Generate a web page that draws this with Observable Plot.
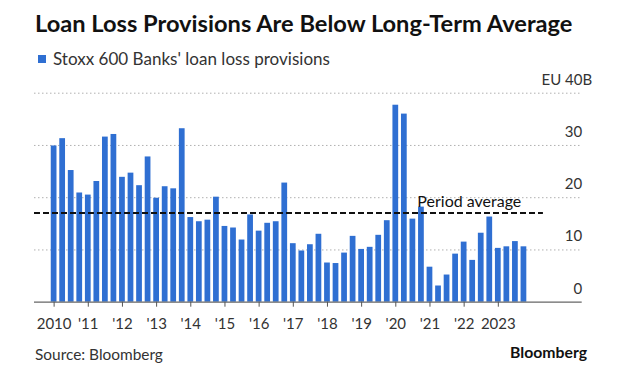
<!DOCTYPE html>
<html><head><meta charset="utf-8">
<script src="https://cdn.jsdelivr.net/npm/d3@7"></script>
<script src="https://cdn.jsdelivr.net/npm/@observablehq/plot@0.6"></script>
<style>
html,body{margin:0;padding:0;background:#fff;}
body{width:620px;height:372px;position:relative;overflow:hidden;font-family:Lato,"Noto Sans",sans-serif;}
.t{position:absolute;top:0;left:0;white-space:nowrap;line-height:1;font-size:20px;}
.bl{display:inline-block;width:0;height:0;vertical-align:baseline;}
#title{font-weight:700;color:#111;}
#legend{color:#333;}
#source{color:#333;}
#logo{font-weight:700;color:#111;}
#swatch{position:absolute;left:38px;top:55px;width:8px;height:8px;background:#2f6fd2;}
#chart{position:absolute;left:0;top:70px;}
</style>
</head><body>
<div class="t" id="title">Loan Loss Provisions Are Below Long-Term Average<span class="bl"></span></div>
<div id="swatch"></div>
<div class="t" id="legend">Stoxx 600 Banks' loan loss provisions<span class="bl"></span></div>
<div id="chart"></div>
<div class="t" id="source">Source: Bloomberg<span class="bl"></span></div>
<div class="t" id="logo">Bloomberg<span class="bl"></span></div>
<script>
// ---- data ----
const years = [2010,2011,2012,2013,2014,2015,2016,2017,2018,2019,2020,2021,2022,2023];
const quarters = [1,2,3,4];
const xTickLabels = ["2010","'11","'12","'13","'14","'15","'16","'17","'18","'19","'20","'21","'22","2023"];
// Stoxx 600 Banks' loan loss provisions, EU billions, quarterly 2010Q1..2023Q4
const provisions = [
  29.9,31.3,25.2,20.9,
  20.5,23.1,31.6,32.1,
  23.9,24.7,22.3,27.8,
  19.9,22.1,21.7,33.2,
  16.2,15.4,15.7,20.1,
  14.5,14.2,11.9,16.7,
  13.6,15.1,15.4,22.8,
  11.2,9.8,11.0,13.0,
  7.5,7.4,9.4,12.6,
  10.1,10.5,12.8,15.6,
  37.7,36.0,15.9,18.2,
  6.7,3.1,5.2,9.2,
  11.5,8.0,13.2,16.3,
  10.3,10.6,11.6,10.6
];
const yTicks = [0,10,20,30];
const yTop = 40;
const avgLabel = "Period average";

// ---- table ----
const table = [];
years.forEach((yr, yi) => quarters.forEach((q, qi) => {
  const t = yr + (q - 1) / 4;
  table.push({t, x1: t - 0.125, x2: t + 0.125, v: provisions[yi * 4 + qi]});
}));
const avg = d3.mean(provisions);

const blue = "#2f6fd2";
const xDomain = [years[0] - 0.574, years[years.length - 1] + 2.455];

const chart = Plot.plot({
  width: 620, height: 270,
  marginLeft: 34, marginRight: 38.3, marginTop: 22.7, marginBottom: 38.3,
  x: {type: "linear", domain: xDomain},
  y: {domain: [0, yTop], axis: null},
  style: {fontFamily: "Lato, 'Noto Sans', sans-serif", fontSize: "15px", color: "#333", background: "transparent", overflow: "visible"},
  marks: [
    Plot.ruleY([10, 20, 30, 40], {stroke: "#b0b0b0", strokeWidth: 1, strokeDasharray: "1.5,2.5"}),
    Plot.rectY(table, {x1: "x1", x2: "x2", y: "v", fill: blue, insetLeft: 1.4, insetRight: 1.4}),
    Plot.ruleY([0], {stroke: "#666", strokeWidth: 1.2}),
    Plot.ruleY([avg], {x1: xDomain[0], x2: 2024.32, stroke: "#111", strokeWidth: 2, strokeDasharray: "6,3"}),
    Plot.text([avg], {x: 2020.63, y: d => d, text: () => avgLabel, textAnchor: "start", lineAnchor: "bottom", dy: -6, fill: "#111", fontSize: 16}),
    Plot.axisX({ticks: years, tickFormat: d => xTickLabels[years.indexOf(d)], tickSize: 5, tickPadding: 11, stroke: "#555", fill: "#333"}),
    Plot.text(yTicks, {y: d => d, frameAnchor: "right", textAnchor: "end", lineAnchor: "bottom", dy: -8.5, text: d => String(d), fill: "#333"}),
    Plot.text([yTop], {y: d => d, frameAnchor: "right", textAnchor: "end", lineAnchor: "bottom", dx: 10, dy: -8.5, text: d => "EU " + d + "B", fill: "#333"})
  ]
});
document.getElementById("chart").append(chart);

// ---- fit & place header/footer texts ----
function place(id, {left, right, baseline, width}) {
  const el = document.getElementById(id);
  const w0 = el.getBoundingClientRect().width;
  const fs0 = parseFloat(getComputedStyle(el).fontSize);
  el.style.fontSize = (fs0 * width / w0) + "px";
  const b = el.querySelector(".bl").getBoundingClientRect().top;
  const top0 = el.getBoundingClientRect().top;
  el.style.top = (baseline - (b - top0)) + "px";
  const w = el.getBoundingClientRect().width;
  el.style.left = (left != null ? left : right - w) + "px";
}
place("title", {left: 35, baseline: 31.7, width: 538});
place("legend", {left: 53, baseline: 65, width: 277});
place("source", {left: 35, baseline: 360, width: 128});
place("logo", {right: 587, baseline: 358, width: 77});
</script>
</body></html>
